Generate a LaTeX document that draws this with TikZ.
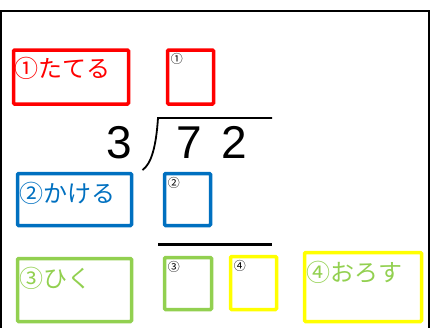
\documentclass[tikz,border=0pt]{standalone}
\usepackage{fontspec}
\newfontfamily\jpfont{Noto Sans CJK JP}
\newfontfamily\digitfont{Liberation Sans}
\usepackage{tikz}
\usetikzlibrary{positioning}
\definecolor{stepred}{HTML}{FF0000}
\definecolor{stepblue}{HTML}{0070C0}
\definecolor{stepgreen}{HTML}{92D050}
\definecolor{stepyellow}{HTML}{FFFF00}

\begin{document}
\begin{tikzpicture}[x=1pt, y=-1pt,
        stepbox/.style={rectangle, draw, line width=3.5pt, rounded corners=1.2pt, inner sep=0pt},
        steplabel/.style={anchor=north west, inner sep=0pt, font=\jpfont\fontsize{24}{24}\selectfont},
        mark label/.style={anchor=north west, inner sep=0pt, font=\jpfont\fontsize{12}{12}\selectfont},
        digit/.style={inner sep=0pt, font=\digitfont\fontsize{46}{46}\selectfont}]
        \useasboundingbox (0,0) rectangle (430,327);

        % Frame
        \draw[line width=1.2pt] (1,330) -- (1,11) -- (429,11) -- (429,330);

        % Step boxes
        \node[stepbox, draw=stepred, minimum width=115, minimum height=54] (tateru) at (71,77) {};
        \node[stepbox, draw=stepblue, minimum width=114, minimum height=52] (kakeru) at (74.5,199.5) {};
        \node[stepbox, draw=stepgreen, minimum width=114, minimum height=63] (hiku) at (74.5,290) {};
        \node[stepbox, draw=stepyellow, minimum width=117, minimum height=69] (orosu) at (363,287) {};

        % Answer boxes
        \node[stepbox, draw=stepred, minimum width=46, minimum height=54] (boxA) at (190.5,77) {};
        \node[stepbox, draw=stepblue, minimum width=46, minimum height=52] (boxB) at (187.5,199.5) {};
        \node[stepbox, draw=stepgreen, minimum width=47, minimum height=52] (boxC) at (188,283.5) {};
        \node[stepbox, draw=stepyellow, minimum width=46, minimum height=53] (boxD) at (253.5,283) {};

        % Labels
        \node[steplabel, text=stepred] (tateruText) at ([xshift=3pt, yshift=-9pt]tateru.north west) {①たてる};
        \node[steplabel, text=stepblue] (kakeruText) at ([xshift=4pt, yshift=-10pt]kakeru.north west) {②かける};
        \node[steplabel, text=stepgreen] (hikuText) at ([xshift=4pt, yshift=-10pt]hiku.north west) {③ひく};
        \node[steplabel, text=stepgreen] (orosuText) at ([xshift=4pt, yshift=-10pt]orosu.north west) {④おろす};

        \node[mark label] (markA) at ([xshift=5pt, yshift=-5pt]boxA.north west) {①};
        \node[mark label] (markB) at ([xshift=5pt, yshift=-5pt]boxB.north west) {②};
        \node[mark label] (markC) at ([xshift=5pt, yshift=-5pt]boxC.north west) {③};
        \node[mark label] (markD) at ([xshift=5pt, yshift=-5pt]boxD.north west) {④};

        % Division
        \node[digit] (divisor) at (119,142.5) {3};
        \node[digit] (tens) at (189,142.5) {7};
        \node[digit] (ones) at (234.5,142.5) {2};
        \coordinate (bracketBottom) at (142.5,170);
        \coordinate (bracketTop) at (158,118);
        \coordinate (barEnd) at (272,118);
        \draw[line width=1.8pt] (bracketBottom) .. controls (151,164) and (156,148) .. (bracketTop) -- (barEnd);

        % Subtraction line
        \coordinate (lineStart) at (158,244);
        \coordinate (lineEnd) at (272,244);
        \draw[line width=3pt] (lineStart) -- (lineEnd);

    \end{tikzpicture}
\end{document}
